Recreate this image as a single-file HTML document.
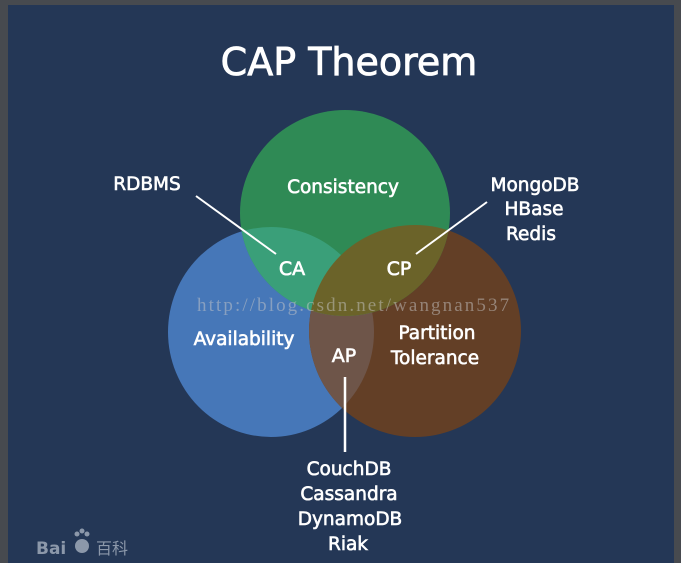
<!DOCTYPE html>
<html><head><style>
html,body{margin:0;padding:0;background:#444;}
svg{display:block;}
text{font-family:"DejaVu Sans","Liberation Sans",sans-serif;fill:#fff;}
.l{stroke:#fff;stroke-width:0.6;}
</style></head><body>
<svg width="681" height="563" viewBox="0 0 681 563" xmlns="http://www.w3.org/2000/svg">
<rect x="0" y="0" width="681" height="563" fill="#474a4f"/>
<rect x="8" y="5" width="666" height="558" fill="#243756"/>
<defs>
<clipPath id="cg"><ellipse cx="345" cy="213" rx="105" ry="103"/></clipPath>
<clipPath id="cb"><ellipse cx="271" cy="332" rx="103" ry="105"/></clipPath>
</defs>
<ellipse cx="271" cy="332" rx="103" ry="105" fill="#4677b8"/>
<ellipse cx="415" cy="331" rx="106" ry="106" fill="#633f26"/>
<ellipse cx="345" cy="213" rx="105" ry="103" fill="#2f8a55"/>
<g clip-path="url(#cb)"><ellipse cx="415" cy="331" rx="106" ry="106" fill="#6e5549"/></g>
<g clip-path="url(#cg)"><ellipse cx="271" cy="332" rx="103" ry="105" fill="#3a9f79"/><ellipse cx="415" cy="331" rx="106" ry="106" fill="#6b6329"/></g>
<text x="349" y="75" font-size="38" text-anchor="middle" style="stroke:#fff;stroke-width:0.8">CAP Theorem</text>
<g class="l">
<text x="343" y="193" font-size="18.5" text-anchor="middle">Consistency</text>
<text x="147" y="190" font-size="18.5" text-anchor="middle">RDBMS</text>
<text x="292" y="275" font-size="19" text-anchor="middle">CA</text>
<text x="399" y="275" font-size="19" text-anchor="middle">CP</text>
<text x="535" y="191" font-size="18.5" text-anchor="middle">MongoDB</text>
<text x="534" y="215" font-size="18.5" text-anchor="middle">HBase</text>
<text x="531" y="240" font-size="18.5" text-anchor="middle">Redis</text>
<text x="244" y="345" font-size="18.5" text-anchor="middle">Availability</text>
<text x="437" y="339" font-size="18.5" text-anchor="middle">Partition</text>
<text x="435" y="364" font-size="18.5" text-anchor="middle">Tolerance</text>
<text x="344" y="362" font-size="19" text-anchor="middle">AP</text>
<text x="349" y="475" font-size="18.5" text-anchor="middle">CouchDB</text>
<text x="349" y="500" font-size="18.5" text-anchor="middle">Cassandra</text>
<text x="350" y="525" font-size="18.5" text-anchor="middle">DynamoDB</text>
<text x="348" y="550" font-size="18.5" text-anchor="middle">Riak</text>
</g>
<line x1="196" y1="196" x2="276" y2="254" stroke="#fff" stroke-width="2"/>
<line x1="487" y1="202" x2="416" y2="254" stroke="#fff" stroke-width="2"/>
<line x1="345" y1="377" x2="345" y2="452" stroke="#fff" stroke-width="2.5"/>
<text x="197" y="311" font-size="19" letter-spacing="2.1" style="font-family:'Liberation Serif',serif;fill:#c8c8c8;fill-opacity:0.5">http://blog.csdn.net/wangnan537</text>
<text x="36" y="554" font-size="17" font-weight="bold" style="fill:#8c98aa">Bai</text>
<circle cx="82" cy="546" r="7" fill="#8c98aa"/>
<circle cx="77" cy="534" r="2.5" fill="#8c98aa"/><circle cx="82" cy="531" r="2.5" fill="#8c98aa"/><circle cx="87" cy="534" r="2.5" fill="#8c98aa"/>
<text x="96" y="554" font-size="16" style="font-family:'Noto Sans CJK SC',sans-serif;fill:#8c98aa">百科</text>
</svg>
</body></html>
